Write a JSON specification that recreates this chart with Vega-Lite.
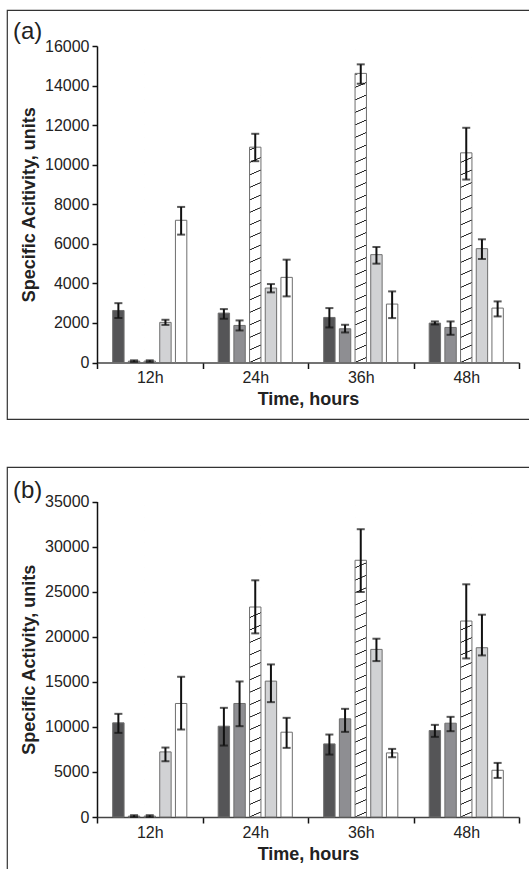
{
  "$schema": "https://vega.github.io/schema/vega-lite/v6.json",
  "padding": {"left": 6, "top": 9, "right": 0, "bottom": 0},
  "background": "white",
  "spacing": 46,
  "datasets": {
    "a": [
      {"time": "12h", "series": "Series 1", "value": 2630, "lo": 2250, "hi": 3000},
      {"time": "12h", "series": "Series 2", "value": 70, "lo": 30, "hi": 110},
      {"time": "12h", "series": "Series 3", "value": 70, "lo": 30, "hi": 110},
      {"time": "12h", "series": "Series 4", "value": 2030, "lo": 1900, "hi": 2160},
      {"time": "12h", "series": "Series 5", "value": 7190, "lo": 6464, "hi": 7865},
      {"time": "24h", "series": "Series 1", "value": 2498, "lo": 2211, "hi": 2700},
      {"time": "24h", "series": "Series 2", "value": 1873, "lo": 1620, "hi": 2127},
      {"time": "24h", "series": "Series 3", "value": 10886, "lo": 10177, "hi": 11562},
      {"time": "24h", "series": "Series 4", "value": 3764, "lo": 3544, "hi": 3966},
      {"time": "24h", "series": "Series 5", "value": 4304, "lo": 3342, "hi": 5198},
      {"time": "36h", "series": "Series 1", "value": 2278, "lo": 1772, "hi": 2751},
      {"time": "36h", "series": "Series 2", "value": 1705, "lo": 1519, "hi": 1907},
      {"time": "36h", "series": "Series 3", "value": 14616, "lo": 14093, "hi": 15072},
      {"time": "36h", "series": "Series 4", "value": 5452, "lo": 4996, "hi": 5840},
      {"time": "36h", "series": "Series 5", "value": 2954, "lo": 2245, "hi": 3595},
      {"time": "48h", "series": "Series 1", "value": 1992, "lo": 1924, "hi": 2076},
      {"time": "48h", "series": "Series 2", "value": 1772, "lo": 1401, "hi": 2076},
      {"time": "48h", "series": "Series 3", "value": 10599, "lo": 9249, "hi": 11865},
      {"time": "48h", "series": "Series 4", "value": 5755, "lo": 5232, "hi": 6228},
      {"time": "48h", "series": "Series 5", "value": 2751, "lo": 2329, "hi": 3089}
    ],
    "b": [
      {"time": "12h", "series": "Series 1", "value": 10444, "lo": 9333, "hi": 11444},
      {"time": "12h", "series": "Series 2", "value": 100, "lo": 0, "hi": 200},
      {"time": "12h", "series": "Series 3", "value": 100, "lo": 0, "hi": 200},
      {"time": "12h", "series": "Series 4", "value": 7222, "lo": 6185, "hi": 7704},
      {"time": "12h", "series": "Series 5", "value": 12593, "lo": 9704, "hi": 15556},
      {"time": "24h", "series": "Series 1", "value": 10074, "lo": 7926, "hi": 12111},
      {"time": "24h", "series": "Series 2", "value": 12593, "lo": 10074, "hi": 15037},
      {"time": "24h", "series": "Series 3", "value": 23296, "lo": 20370, "hi": 26259},
      {"time": "24h", "series": "Series 4", "value": 15074, "lo": 12741, "hi": 16926},
      {"time": "24h", "series": "Series 5", "value": 9407, "lo": 7667, "hi": 11000},
      {"time": "36h", "series": "Series 1", "value": 8111, "lo": 6926, "hi": 9148},
      {"time": "36h", "series": "Series 2", "value": 10889, "lo": 9444, "hi": 12000},
      {"time": "36h", "series": "Series 3", "value": 28481, "lo": 24963, "hi": 31926},
      {"time": "36h", "series": "Series 4", "value": 18593, "lo": 17296, "hi": 19778},
      {"time": "36h", "series": "Series 5", "value": 7111, "lo": 6630, "hi": 7556},
      {"time": "48h", "series": "Series 1", "value": 9593, "lo": 8889, "hi": 10222},
      {"time": "48h", "series": "Series 2", "value": 10407, "lo": 9519, "hi": 11111},
      {"time": "48h", "series": "Series 3", "value": 21741, "lo": 17593, "hi": 25815},
      {"time": "48h", "series": "Series 4", "value": 18778, "lo": 17926, "hi": 22444},
      {"time": "48h", "series": "Series 5", "value": 5185, "lo": 4333, "hi": 6000}
    ]
  },
  "config": {
    "font": "Liberation Sans",
    "view": {"stroke": "#333333", "strokeWidth": 1.2},
    "axis": {
      "grid": false,
      "labelFont": "Liberation Sans",
      "labelFontSize": 16,
      "labelColor": "#222222",
      "titleFont": "Liberation Sans",
      "titleFontSize": 18,
      "titleFontWeight": "bold",
      "titleColor": "#222222",
      "tickColor": "#111111",
      "domainColor": "#111111"
    },
    "axisY": {"offset": -90, "tickSize": 5, "tickWidth": 1.5, "domainWidth": 1.5, "labelPadding": 3, "titlePadding": 6},
    "axisX": {"labelAngle": 0, "tickBand": "extent", "tickSize": 6, "tickWidth": 1.5, "domainWidth": 1.5, "domainColor": "#444444", "labelPadding": 1, "titlePadding": 5}
  },
  "vconcat": [
    {
      "width": 524,
      "height": 409,
      "data": {"name": "a"},
      "title": {"text": "(a)", "anchor": "start", "frame": "group", "orient": "top", "offset": -34, "dx": 6, "fontSize": 24, "fontWeight": "normal", "font": "Liberation Sans", "color": "#222222"},
      "encoding": {
        "x": {"field": "time", "type": "nominal", "title": "Time, hours",
          "scale": {"range": [90, 512], "paddingInner": 0, "paddingOuter": 0},
          "axis": {"orient": "bottom", "offset": -56.5}},
        "xOffset": {"field": "series", "type": "nominal",
          "scale": {"domain": ["Series 1", "Series 2", "Series 3", "Series 4", "Series 5"], "paddingInner": 0.274, "paddingOuter": 1.119}}
      },
      "layer": [
        {
          "transform": [{"filter": "datum.series === 'Series 3'"}],
          "mark": {"type": "bar", "stroke": null, "fill": {"gradient": "linear", "x1": 0, "y1": 0, "x2": 0.016043, "y2": 1.015545, "stops": [
            {"offset": 0, "color": "#ffffff"},
            {"offset": 0.0100, "color": "#ffffff"}, {"offset": 0.0113, "color": "#2a2a2a"}, {"offset": 0.0133, "color": "#2a2a2a"}, {"offset": 0.0146, "color": "#ffffff"},
            {"offset": 0.04888, "color": "#ffffff"}, {"offset": 0.05018, "color": "#2a2a2a"}, {"offset": 0.05218, "color": "#2a2a2a"}, {"offset": 0.05348, "color": "#ffffff"},
            {"offset": 0.08776, "color": "#ffffff"}, {"offset": 0.08906, "color": "#2a2a2a"}, {"offset": 0.09106, "color": "#2a2a2a"}, {"offset": 0.09236, "color": "#ffffff"},
            {"offset": 0.12664, "color": "#ffffff"}, {"offset": 0.12794, "color": "#2a2a2a"}, {"offset": 0.12994, "color": "#2a2a2a"}, {"offset": 0.13124, "color": "#ffffff"},
            {"offset": 0.16552, "color": "#ffffff"}, {"offset": 0.16682, "color": "#2a2a2a"}, {"offset": 0.16882, "color": "#2a2a2a"}, {"offset": 0.17012, "color": "#ffffff"},
            {"offset": 0.20440, "color": "#ffffff"}, {"offset": 0.20570, "color": "#2a2a2a"}, {"offset": 0.20770, "color": "#2a2a2a"}, {"offset": 0.20900, "color": "#ffffff"},
            {"offset": 0.24328, "color": "#ffffff"}, {"offset": 0.24458, "color": "#2a2a2a"}, {"offset": 0.24658, "color": "#2a2a2a"}, {"offset": 0.24788, "color": "#ffffff"},
            {"offset": 0.28216, "color": "#ffffff"}, {"offset": 0.28346, "color": "#2a2a2a"}, {"offset": 0.28546, "color": "#2a2a2a"}, {"offset": 0.28676, "color": "#ffffff"},
            {"offset": 0.32104, "color": "#ffffff"}, {"offset": 0.32234, "color": "#2a2a2a"}, {"offset": 0.32434, "color": "#2a2a2a"}, {"offset": 0.32564, "color": "#ffffff"},
            {"offset": 0.35992, "color": "#ffffff"}, {"offset": 0.36122, "color": "#2a2a2a"}, {"offset": 0.36322, "color": "#2a2a2a"}, {"offset": 0.36452, "color": "#ffffff"},
            {"offset": 0.39880, "color": "#ffffff"}, {"offset": 0.40010, "color": "#2a2a2a"}, {"offset": 0.40210, "color": "#2a2a2a"}, {"offset": 0.40340, "color": "#ffffff"},
            {"offset": 0.43768, "color": "#ffffff"}, {"offset": 0.43898, "color": "#2a2a2a"}, {"offset": 0.44098, "color": "#2a2a2a"}, {"offset": 0.44228, "color": "#ffffff"},
            {"offset": 0.47656, "color": "#ffffff"}, {"offset": 0.47786, "color": "#2a2a2a"}, {"offset": 0.47986, "color": "#2a2a2a"}, {"offset": 0.48116, "color": "#ffffff"},
            {"offset": 0.51544, "color": "#ffffff"}, {"offset": 0.51674, "color": "#2a2a2a"}, {"offset": 0.51874, "color": "#2a2a2a"}, {"offset": 0.52004, "color": "#ffffff"},
            {"offset": 0.55432, "color": "#ffffff"}, {"offset": 0.55562, "color": "#2a2a2a"}, {"offset": 0.55762, "color": "#2a2a2a"}, {"offset": 0.55892, "color": "#ffffff"},
            {"offset": 0.59320, "color": "#ffffff"}, {"offset": 0.59450, "color": "#2a2a2a"}, {"offset": 0.59650, "color": "#2a2a2a"}, {"offset": 0.59780, "color": "#ffffff"},
            {"offset": 0.63208, "color": "#ffffff"}, {"offset": 0.63338, "color": "#2a2a2a"}, {"offset": 0.63538, "color": "#2a2a2a"}, {"offset": 0.63668, "color": "#ffffff"},
            {"offset": 0.67096, "color": "#ffffff"}, {"offset": 0.67226, "color": "#2a2a2a"}, {"offset": 0.67426, "color": "#2a2a2a"}, {"offset": 0.67556, "color": "#ffffff"},
            {"offset": 0.70984, "color": "#ffffff"}, {"offset": 0.71114, "color": "#2a2a2a"}, {"offset": 0.71314, "color": "#2a2a2a"}, {"offset": 0.71444, "color": "#ffffff"},
            {"offset": 0.74872, "color": "#ffffff"}, {"offset": 0.75002, "color": "#2a2a2a"}, {"offset": 0.75202, "color": "#2a2a2a"}, {"offset": 0.75332, "color": "#ffffff"},
            {"offset": 0.78760, "color": "#ffffff"}, {"offset": 0.78890, "color": "#2a2a2a"}, {"offset": 0.79090, "color": "#2a2a2a"}, {"offset": 0.79220, "color": "#ffffff"},
            {"offset": 0.82648, "color": "#ffffff"}, {"offset": 0.82778, "color": "#2a2a2a"}, {"offset": 0.82978, "color": "#2a2a2a"}, {"offset": 0.83108, "color": "#ffffff"},
            {"offset": 0.86536, "color": "#ffffff"}, {"offset": 0.86666, "color": "#2a2a2a"}, {"offset": 0.86866, "color": "#2a2a2a"}, {"offset": 0.86996, "color": "#ffffff"},
            {"offset": 0.90424, "color": "#ffffff"}, {"offset": 0.90554, "color": "#2a2a2a"}, {"offset": 0.90754, "color": "#2a2a2a"}, {"offset": 0.90884, "color": "#ffffff"},
            {"offset": 0.94312, "color": "#ffffff"}, {"offset": 0.94442, "color": "#2a2a2a"}, {"offset": 0.94642, "color": "#2a2a2a"}, {"offset": 0.94772, "color": "#ffffff"},
            {"offset": 0.98200, "color": "#ffffff"}, {"offset": 0.98330, "color": "#2a2a2a"}, {"offset": 0.98530, "color": "#2a2a2a"}, {"offset": 0.98660, "color": "#ffffff"},
            {"offset": 1, "color": "#ffffff"}
          ]}},
          "encoding": {
            "y": {"datum": 16000, "type": "quantitative", "title": "Specific Acitivity, units", "axis": {"values": [0, 2000, 4000, 6000, 8000, 10000, 12000, 14000, 16000], "format": "d"}},
            "y2": {"datum": 0}
          }
        },
        {
          "transform": [{"filter": "datum.series === 'Series 3'"}],
          "mark": {"type": "bar", "fill": "#ffffff", "stroke": "#ffffff", "strokeWidth": 1.5},
          "encoding": {
            "y": {"field": "value", "type": "quantitative", "title": "Specific Acitivity, units", "axis": {"values": [0, 2000, 4000, 6000, 8000, 10000, 12000, 14000, 16000], "format": "d"}},
            "y2": {"datum": 16000}
          }
        },
        {
          "mark": {"type": "bar", "stroke": "#6e6e6e", "strokeWidth": 1},
          "encoding": {
            "y": {"field": "value", "type": "quantitative", "stack": null, "title": "Specific Acitivity, units",
              "scale": {"domain": [0, 16000], "range": [352.5, 36], "nice": false},
              "axis": {"values": [0, 2000, 4000, 6000, 8000, 10000, 12000, 14000, 16000], "format": "d"}},
            "fill": {"field": "series", "type": "nominal", "legend": null,
              "scale": {"domain": ["Series 1", "Series 2", "Series 3", "Series 4", "Series 5"], "range": ["#555557", "#8e8e92", "rgba(255,255,255,0)", "#d1d2d4", "#ffffff"]}}
          }
        },
        {
          "mark": {"type": "rule", "color": "#111111", "strokeWidth": 2},
          "encoding": {
            "y": {"field": "lo", "type": "quantitative", "title": "Specific Acitivity, units", "axis": {"values": [0, 2000, 4000, 6000, 8000, 10000, 12000, 14000, 16000], "format": "d"}},
            "y2": {"field": "hi"}
          }
        },
        {
          "mark": {"type": "tick", "color": "#111111", "thickness": 2, "size": 8},
          "encoding": {"y": {"field": "hi", "type": "quantitative", "title": "Specific Acitivity, units", "axis": {"values": [0, 2000, 4000, 6000, 8000, 10000, 12000, 14000, 16000], "format": "d"}}}
        },
        {
          "mark": {"type": "tick", "color": "#111111", "thickness": 2, "size": 8},
          "encoding": {"y": {"field": "lo", "type": "quantitative", "title": "Specific Acitivity, units", "axis": {"values": [0, 2000, 4000, 6000, 8000, 10000, 12000, 14000, 16000], "format": "d"}}}
        }
      ]
    },
    {
      "width": 524,
      "height": 410,
      "data": {"name": "b"},
      "title": {"text": "(b)", "anchor": "start", "frame": "group", "orient": "top", "offset": -36, "dx": 6, "fontSize": 24, "fontWeight": "normal", "font": "Liberation Sans", "color": "#222222"},
      "encoding": {
        "x": {"field": "time", "type": "nominal", "title": "Time, hours",
          "scale": {"range": [90, 512], "paddingInner": 0, "paddingOuter": 0},
          "axis": {"orient": "bottom", "offset": -60}},
        "xOffset": {"field": "series", "type": "nominal",
          "scale": {"domain": ["Series 1", "Series 2", "Series 3", "Series 4", "Series 5"], "paddingInner": 0.274, "paddingOuter": 1.119}}
      },
      "layer": [
        {
          "transform": [{"filter": "datum.series === 'Series 3'"}],
          "mark": {"type": "bar", "stroke": null, "fill": {"gradient": "linear", "x1": 0, "y1": 0, "x2": 0.016043, "y2": 1.015545, "stops": [
            {"offset": 0, "color": "#ffffff"},
            {"offset": 0.0100, "color": "#ffffff"}, {"offset": 0.0113, "color": "#2a2a2a"}, {"offset": 0.0133, "color": "#2a2a2a"}, {"offset": 0.0146, "color": "#ffffff"},
            {"offset": 0.04888, "color": "#ffffff"}, {"offset": 0.05018, "color": "#2a2a2a"}, {"offset": 0.05218, "color": "#2a2a2a"}, {"offset": 0.05348, "color": "#ffffff"},
            {"offset": 0.08776, "color": "#ffffff"}, {"offset": 0.08906, "color": "#2a2a2a"}, {"offset": 0.09106, "color": "#2a2a2a"}, {"offset": 0.09236, "color": "#ffffff"},
            {"offset": 0.12664, "color": "#ffffff"}, {"offset": 0.12794, "color": "#2a2a2a"}, {"offset": 0.12994, "color": "#2a2a2a"}, {"offset": 0.13124, "color": "#ffffff"},
            {"offset": 0.16552, "color": "#ffffff"}, {"offset": 0.16682, "color": "#2a2a2a"}, {"offset": 0.16882, "color": "#2a2a2a"}, {"offset": 0.17012, "color": "#ffffff"},
            {"offset": 0.20440, "color": "#ffffff"}, {"offset": 0.20570, "color": "#2a2a2a"}, {"offset": 0.20770, "color": "#2a2a2a"}, {"offset": 0.20900, "color": "#ffffff"},
            {"offset": 0.24328, "color": "#ffffff"}, {"offset": 0.24458, "color": "#2a2a2a"}, {"offset": 0.24658, "color": "#2a2a2a"}, {"offset": 0.24788, "color": "#ffffff"},
            {"offset": 0.28216, "color": "#ffffff"}, {"offset": 0.28346, "color": "#2a2a2a"}, {"offset": 0.28546, "color": "#2a2a2a"}, {"offset": 0.28676, "color": "#ffffff"},
            {"offset": 0.32104, "color": "#ffffff"}, {"offset": 0.32234, "color": "#2a2a2a"}, {"offset": 0.32434, "color": "#2a2a2a"}, {"offset": 0.32564, "color": "#ffffff"},
            {"offset": 0.35992, "color": "#ffffff"}, {"offset": 0.36122, "color": "#2a2a2a"}, {"offset": 0.36322, "color": "#2a2a2a"}, {"offset": 0.36452, "color": "#ffffff"},
            {"offset": 0.39880, "color": "#ffffff"}, {"offset": 0.40010, "color": "#2a2a2a"}, {"offset": 0.40210, "color": "#2a2a2a"}, {"offset": 0.40340, "color": "#ffffff"},
            {"offset": 0.43768, "color": "#ffffff"}, {"offset": 0.43898, "color": "#2a2a2a"}, {"offset": 0.44098, "color": "#2a2a2a"}, {"offset": 0.44228, "color": "#ffffff"},
            {"offset": 0.47656, "color": "#ffffff"}, {"offset": 0.47786, "color": "#2a2a2a"}, {"offset": 0.47986, "color": "#2a2a2a"}, {"offset": 0.48116, "color": "#ffffff"},
            {"offset": 0.51544, "color": "#ffffff"}, {"offset": 0.51674, "color": "#2a2a2a"}, {"offset": 0.51874, "color": "#2a2a2a"}, {"offset": 0.52004, "color": "#ffffff"},
            {"offset": 0.55432, "color": "#ffffff"}, {"offset": 0.55562, "color": "#2a2a2a"}, {"offset": 0.55762, "color": "#2a2a2a"}, {"offset": 0.55892, "color": "#ffffff"},
            {"offset": 0.59320, "color": "#ffffff"}, {"offset": 0.59450, "color": "#2a2a2a"}, {"offset": 0.59650, "color": "#2a2a2a"}, {"offset": 0.59780, "color": "#ffffff"},
            {"offset": 0.63208, "color": "#ffffff"}, {"offset": 0.63338, "color": "#2a2a2a"}, {"offset": 0.63538, "color": "#2a2a2a"}, {"offset": 0.63668, "color": "#ffffff"},
            {"offset": 0.67096, "color": "#ffffff"}, {"offset": 0.67226, "color": "#2a2a2a"}, {"offset": 0.67426, "color": "#2a2a2a"}, {"offset": 0.67556, "color": "#ffffff"},
            {"offset": 0.70984, "color": "#ffffff"}, {"offset": 0.71114, "color": "#2a2a2a"}, {"offset": 0.71314, "color": "#2a2a2a"}, {"offset": 0.71444, "color": "#ffffff"},
            {"offset": 0.74872, "color": "#ffffff"}, {"offset": 0.75002, "color": "#2a2a2a"}, {"offset": 0.75202, "color": "#2a2a2a"}, {"offset": 0.75332, "color": "#ffffff"},
            {"offset": 0.78760, "color": "#ffffff"}, {"offset": 0.78890, "color": "#2a2a2a"}, {"offset": 0.79090, "color": "#2a2a2a"}, {"offset": 0.79220, "color": "#ffffff"},
            {"offset": 0.82648, "color": "#ffffff"}, {"offset": 0.82778, "color": "#2a2a2a"}, {"offset": 0.82978, "color": "#2a2a2a"}, {"offset": 0.83108, "color": "#ffffff"},
            {"offset": 0.86536, "color": "#ffffff"}, {"offset": 0.86666, "color": "#2a2a2a"}, {"offset": 0.86866, "color": "#2a2a2a"}, {"offset": 0.86996, "color": "#ffffff"},
            {"offset": 0.90424, "color": "#ffffff"}, {"offset": 0.90554, "color": "#2a2a2a"}, {"offset": 0.90754, "color": "#2a2a2a"}, {"offset": 0.90884, "color": "#ffffff"},
            {"offset": 0.94312, "color": "#ffffff"}, {"offset": 0.94442, "color": "#2a2a2a"}, {"offset": 0.94642, "color": "#2a2a2a"}, {"offset": 0.94772, "color": "#ffffff"},
            {"offset": 0.98200, "color": "#ffffff"}, {"offset": 0.98330, "color": "#2a2a2a"}, {"offset": 0.98530, "color": "#2a2a2a"}, {"offset": 0.98660, "color": "#ffffff"},
            {"offset": 1, "color": "#ffffff"}
          ]}},
          "encoding": {
            "y": {"datum": 35000, "type": "quantitative", "title": "Specific Activity, units", "axis": {"values": [0, 5000, 10000, 15000, 20000, 25000, 30000, 35000], "format": "d"}},
            "y2": {"datum": 0}
          }
        },
        {
          "transform": [{"filter": "datum.series === 'Series 3'"}],
          "mark": {"type": "bar", "fill": "#ffffff", "stroke": "#ffffff", "strokeWidth": 1.5},
          "encoding": {
            "y": {"field": "value", "type": "quantitative", "title": "Specific Activity, units", "axis": {"values": [0, 5000, 10000, 15000, 20000, 25000, 30000, 35000], "format": "d"}},
            "y2": {"datum": 35000}
          }
        },
        {
          "mark": {"type": "bar", "stroke": "#6e6e6e", "strokeWidth": 1},
          "encoding": {
            "y": {"field": "value", "type": "quantitative", "stack": null, "title": "Specific Activity, units",
              "scale": {"domain": [0, 35000], "range": [350, 34.5], "nice": false},
              "axis": {"values": [0, 5000, 10000, 15000, 20000, 25000, 30000, 35000], "format": "d"}},
            "fill": {"field": "series", "type": "nominal", "legend": null,
              "scale": {"domain": ["Series 1", "Series 2", "Series 3", "Series 4", "Series 5"], "range": ["#555557", "#8e8e92", "rgba(255,255,255,0)", "#d1d2d4", "#ffffff"]}}
          }
        },
        {
          "mark": {"type": "rule", "color": "#111111", "strokeWidth": 2},
          "encoding": {
            "y": {"field": "lo", "type": "quantitative", "title": "Specific Activity, units", "axis": {"values": [0, 5000, 10000, 15000, 20000, 25000, 30000, 35000], "format": "d"}},
            "y2": {"field": "hi"}
          }
        },
        {
          "mark": {"type": "tick", "color": "#111111", "thickness": 2, "size": 8},
          "encoding": {"y": {"field": "hi", "type": "quantitative", "title": "Specific Activity, units", "axis": {"values": [0, 5000, 10000, 15000, 20000, 25000, 30000, 35000], "format": "d"}}}
        },
        {
          "mark": {"type": "tick", "color": "#111111", "thickness": 2, "size": 8},
          "encoding": {"y": {"field": "lo", "type": "quantitative", "title": "Specific Activity, units", "axis": {"values": [0, 5000, 10000, 15000, 20000, 25000, 30000, 35000], "format": "d"}}}
        }
      ]
    }
  ]
}
